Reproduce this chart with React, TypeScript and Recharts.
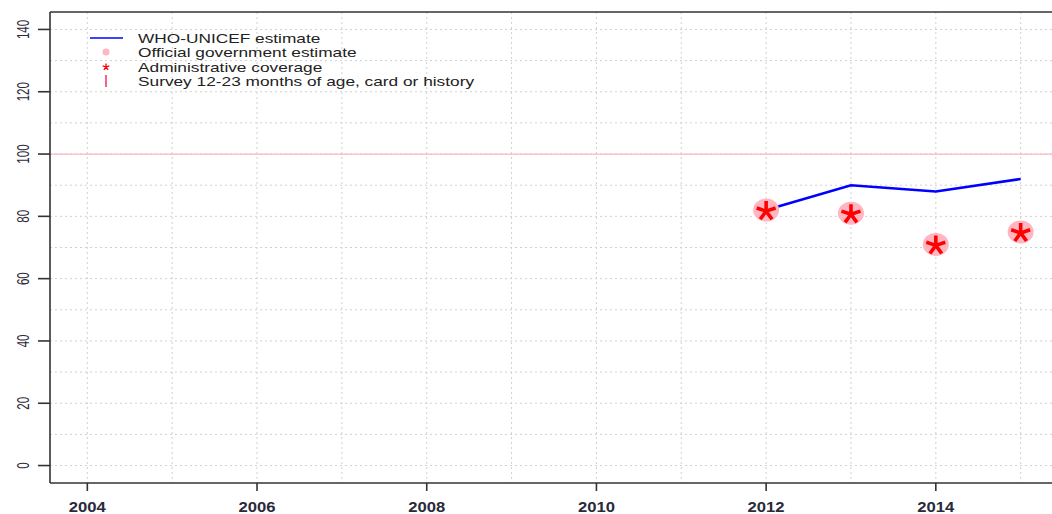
import React from 'react';
import { ComposedChart, Line, Scatter, XAxis, YAxis, CartesianGrid, ReferenceLine } from 'recharts';

// values
const years = [2012, 2013, 2014, 2015];
const whoUnicef = [82, 90, 88, 92];
const officialGov = [82, 81, 71, 75];
const adminCoverage = [82, 81, 71, 75];

const xTicks = [2004, 2006, 2008, 2010, 2012, 2014];
const yTicks = [0, 20, 40, 60, 80, 100, 120, 140];
const xGrid = [2004, 2005, 2006, 2007, 2008, 2009, 2010, 2011, 2012, 2013, 2014, 2015];
const yGrid = [0, 10, 20, 30, 40, 50, 60, 70, 80, 90, 100, 110, 120, 130, 140];
const xDomain = [2003.56, 2015.44];
const yDomain = [-5.6, 145.6];
const targetLine = 100;

const legendLabels = [
  'WHO-UNICEF estimate',
  'Official government estimate',
  'Administrative coverage',
  'Survey 12-23 months of age, card or history',
];

const rows = years.map((year, i) => ({
  year,
  who: whoUnicef[i],
  gov: officialGov[i],
  admin: adminCoverage[i],
}));

const FONT = '"Liberation Sans", Arial, sans-serif';
const AXIS = '#333';

function asteriskPath(cx: number, cy: number, len: number) {
  let d = '';
  for (let k = 0; k < 5; k++) {
    const a = (k * 72 * Math.PI) / 180;
    d += `M${cx},${cy}L${cx + len * Math.sin(a)},${cy - len * Math.cos(a)}`;
  }
  return d;
}

const GovDot = (props: any) => {
  const { cx, cy } = props;
  if (cx == null || cy == null) return null;
  return <ellipse cx={cx} cy={cy} rx={13} ry={11.5} fill="#FFB6C1" />;
};

const AdminStar = (props: any) => {
  const { cx, cy } = props;
  if (cx == null || cy == null) return null;
  return <path d={asteriskPath(cx, cy + 1, 10)} stroke="#FF0000" strokeWidth={3.6} strokeLinecap="butt" fill="none" />;
};

const XTick = (props: any) => {
  const { x, y, payload } = props;
  return (
    <text x={x} y={y} dy="0.71em" textAnchor="middle" fontFamily={FONT} fontSize={15} fontWeight="bold"
      fill="#2a2a3a" textLength={37} lengthAdjust="spacingAndGlyphs">
      {payload.value}
    </text>
  );
};

const YTick = (props: any) => {
  const { x, y, payload } = props;
  const bx = x - 9;
  const s = String(payload.value);
  return (
    <text x={bx} y={y} transform={`rotate(-90, ${bx}, ${y})`} textAnchor="middle" fontFamily={FONT}
      fontSize={17} fill="#2a2a3a" textLength={s.length * 6.4} lengthAdjust="spacingAndGlyphs">
      {s}
    </text>
  );
};

function Legend() {
  const rowY = [38, 52, 67, 81];
  return (
    <svg width={500} height={100} style={{ position: 'absolute', left: 0, top: 0 }}>
      <line x1={90} x2={123} y1={rowY[0]} y2={rowY[0]} stroke="#0000FF" strokeWidth={1.3} />
      <circle cx={106} cy={rowY[1]} r={3.5} fill="#FFB6C1" />
      <path d={asteriskPath(106, rowY[2], 3.5)} stroke="#FF0000" strokeWidth={1.3} fill="none" />
      <line x1={106} x2={106} y1={rowY[3] - 6} y2={rowY[3] + 6} stroke="#F03C64" strokeWidth={1.6} />
      {legendLabels.map((label, i) => (
        <g key={label} transform={`translate(138, ${rowY[i]}) scale(1.28, 1)`}>
          <text x={0} y={0} dy="0.36em" fontFamily={FONT} fontSize={13.5} fill="#222">
            {label}
          </text>
        </g>
      ))}
    </svg>
  );
}

export default function App() {
  return (
    <div style={{ position: 'absolute', left: 0, top: 0, width: 1052, height: 514, overflow: 'hidden', background: '#fff' }}>
      <ComposedChart width={1060} height={514} data={rows} margin={{ top: 12, right: 2, left: 0, bottom: 0 }}>
        <CartesianGrid stroke="#d0d0d0" strokeDasharray="2 3" verticalValues={xGrid} horizontalValues={yGrid} />
        <XAxis type="number" dataKey="year" domain={xDomain} ticks={xTicks} allowDataOverflow
          height={31} tickSize={8} tickMargin={10} tick={<XTick />}
          axisLine={{ stroke: AXIS, strokeWidth: 1.6 }} tickLine={{ stroke: AXIS, strokeWidth: 1.6 }} />
        <YAxis type="number" domain={yDomain} ticks={yTicks} allowDataOverflow width={50}
          tickSize={12} tickMargin={0} tick={<YTick />}
          axisLine={{ stroke: AXIS, strokeWidth: 1.6 }} tickLine={{ stroke: AXIS, strokeWidth: 1.6 }} />
        <ReferenceLine y={yDomain[1]} stroke={AXIS} strokeWidth={1.6} />
        <ReferenceLine y={targetLine} stroke="#FFB6C1" strokeWidth={1.2} />
        <Scatter dataKey="gov" shape={<GovDot />} isAnimationActive={false} />
        <Line type="linear" dataKey="who" stroke="#0000FF" strokeWidth={2.6} dot={false} isAnimationActive={false} />
        <Scatter dataKey="admin" shape={<AdminStar />} isAnimationActive={false} />
      </ComposedChart>
      <Legend />
    </div>
  );
}
